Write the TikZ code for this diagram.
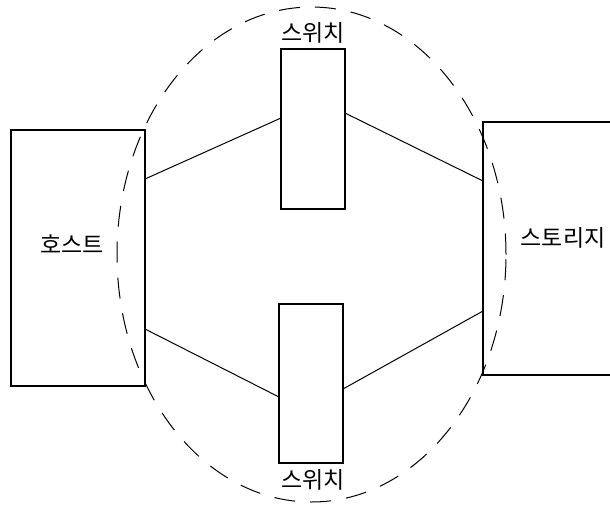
\documentclass[tikz,border=0pt]{standalone}
\usepackage{fontspec}
\newfontfamily\krfont{Noto Sans CJK KR}
\tikzset{
  box/.style={draw=black, line width=2pt, fill=none, inner sep=0pt, outer sep=0pt},
  link/.style={draw=black, line width=1pt},
  zone/.style={draw=black, line width=1pt, dash pattern=on 21pt off 15pt},
  lbl/.style={inner sep=0pt, font=\krfont\fontsize{23}{27}\selectfont, text=black}
}
\begin{document}
\begin{tikzpicture}[x=1pt,y=-1pt]
\useasboundingbox (0,0) rectangle (610,507);
\clip (0,0) rectangle (610,507);
\node[box, minimum width=134pt, minimum height=256pt] (host) at (78,258) {};
\node[box, minimum width=64pt, minimum height=160pt] (sw1) at (313,129) {};
\node[box, minimum width=64pt, minimum height=159pt] (sw2) at (311,383.5) {};
\node[box, minimum width=147pt, minimum height=253pt] (stor) at (556.5,248.5) {};
\node[lbl] (hostlbl) at (72,244) {호스트};
\node[lbl] (sw1lbl) at (313,33) {스위치};
\node[lbl] (sw2lbl) at (313,480) {스위치};
\node[lbl] (storlbl) at (563,238) {스토리지};
\draw[link] ([yshift=-49pt]host.north east) -- ([yshift=-69pt]sw1.north west);
\draw[link] ([yshift=-64pt]sw1.north east) -- ([yshift=-59pt]stor.north west);
\draw[link] ([yshift=-199pt]host.north east) -- ([yshift=-93pt]sw2.north west);
\draw[link] ([yshift=-85pt]sw2.north east) -- ([yshift=-189pt]stor.north west);
\draw[zone] (311.5,254.5) ellipse [x radius=194.5pt, y radius=247.5pt];
\end{tikzpicture}
\end{document}
